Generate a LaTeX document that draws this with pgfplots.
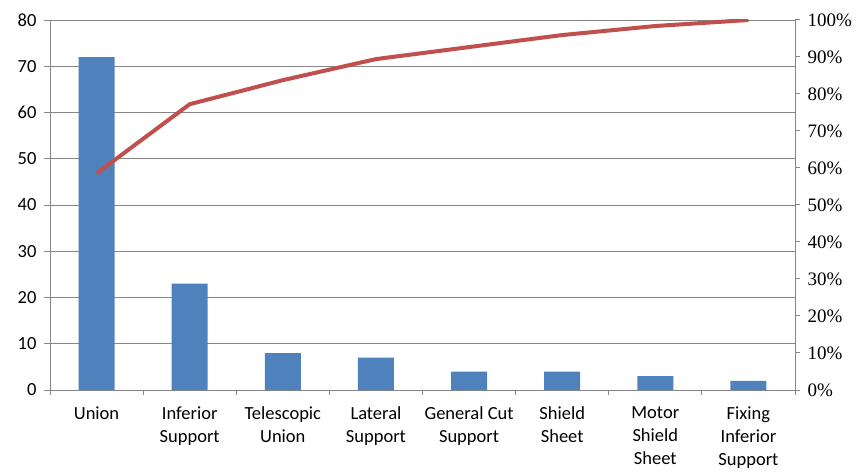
\documentclass[border=0pt]{standalone}
\usepackage{fontspec}
\setmainfont{Carlito}
\newfontfamily\serifnum{Liberation Serif}
\usepackage{pgfplots}
\pgfplotsset{compat=1.18}
\definecolor{barblue}{HTML}{4F81BD}
\definecolor{linered}{HTML}{C0504D}
\definecolor{axgray}{RGB}{134,134,134}

\begin{document}
\begin{tikzpicture}[x=1pt,y=1pt]
% defect counts per part (left axis)
\begin{axis}[
  at={(50pt,81pt)}, anchor=south west,
  scale only axis, width=745pt, height=370pt,
  xmin=-0.5, xmax=7.5, ymin=0, ymax=80,
  ytick={0,10,...,80},
  ymajorgrids, grid style={axgray, line width=1pt},
  axis y line*=left, axis x line*=bottom,
  axis line style={axgray, line width=1pt},
  tick align=outside,
  every tick/.style={axgray, line width=1pt},
  major tick length=6pt, minor tick length=5pt,
  xtick={0,...,7},
  every major x tick/.append style={draw=none},
  minor xtick={-0.5,0.5,...,7.5},
  xticklabels={Union, Inferior\\Support, Telescopic\\Union, Lateral\\Support,
    General Cut\\Support, Shield\\Sheet, Motor\\Shield\\Sheet, Fixing\\Inferior\\Support},
  xticklabel style={align=center, font=\fontsize{18.5}{23}\selectfont, yshift=-7pt},
  yticklabel style={font=\fontsize{18.5}{22}\selectfont, xshift=-4pt},
  /pgf/number format/assume math mode=true,
]
\addplot[ybar, bar width=36pt, fill=barblue, draw=none]
  coordinates {(0,72) (1,23) (2,8) (3,7) (4,4) (5,4) (6,3) (7,2)};
\end{axis}
% cumulative percentage (right axis)
\begin{axis}[
  at={(50pt,81pt)}, anchor=south west,
  scale only axis, width=745pt, height=370pt,
  xmin=-0.5, xmax=7.5, ymin=0, ymax=100,
  axis x line=none, axis y line*=right,
  axis line style={axgray, line width=1pt},
  tick align=outside,
  every tick/.style={axgray, line width=1pt},
  major tick length=5pt,
  ytick={0,10,...,100},
  yticklabel={\pgfmathprintnumber{\tick}\%},
  yticklabel style={font=\serifnum\fontsize{19}{22}\selectfont, xshift=4pt},
  /pgf/number format/assume math mode=true,
]
\addplot[linered, line width=4pt]
  coordinates {(0,58.54) (1,77.24) (2,83.74) (3,89.43) (4,92.68) (5,95.93) (6,98.37) (7,100)};
\end{axis}
\pgfresetboundingbox
\path[use as bounding box] (0,0) rectangle (861,471);
\end{tikzpicture}
\end{document}
